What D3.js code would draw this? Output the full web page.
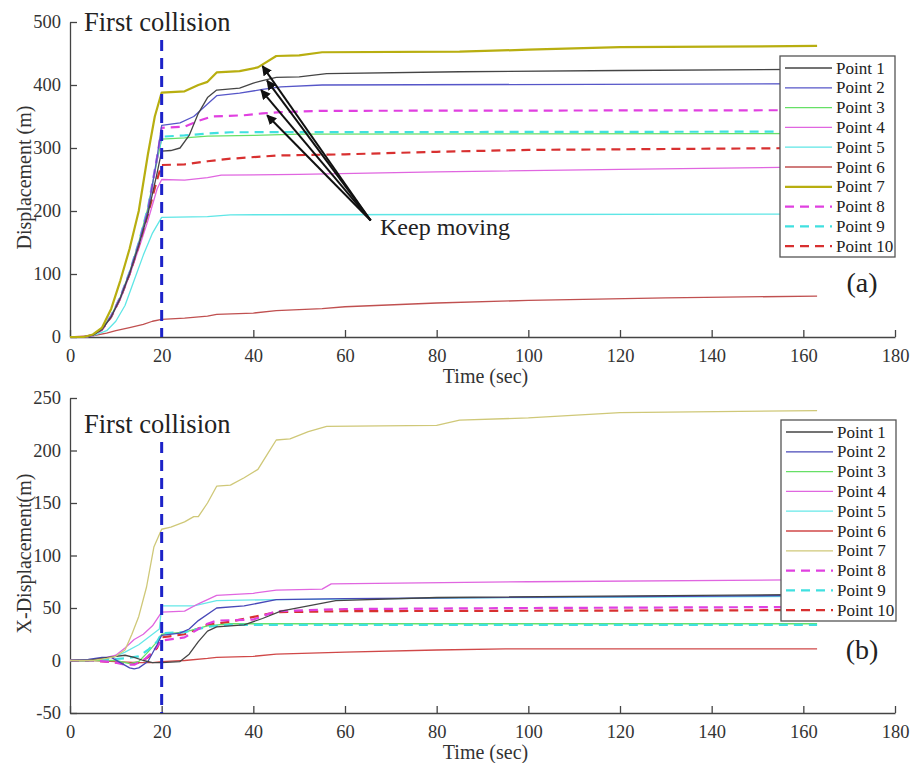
<!DOCTYPE html>
<html>
<head>
<meta charset="utf-8">
<script src="https://cdn.jsdelivr.net/npm/d3@7"></script>
<style>
  body { margin: 0; background: #fff; }
  svg { display: block; }
  text { font-family: "Liberation Serif", "Times New Roman", serif; }
</style>
</head>
<body>
<svg width="911" height="763"></svg>
<script>
// ---- data (time in sec, value in m) ----
var names = ["Point 1", "Point 2", "Point 3", "Point 4", "Point 5", "Point 6", "Point 7", "Point 8", "Point 9", "Point 10"];
var colors = ["#454545", "#5656c8", "#66e066", "#e066e0", "#5ee6e6", "#c05050", "#b8ae10", "#e040e0", "#40e0e0", "#d83030"];
var colorsB = ["#454545", "#4848b8", "#66e066", "#e066e0", "#66e8e8", "#d04848", "#cfc878", "#e040e0", "#40e0e0", "#d83030"];
var dashed = [false, false, false, false, false, false, false, true, true, true];

var xTicks = [0, 20, 40, 60, 80, 100, 120, 140, 160, 180];
var yTicksA = [0, 100, 200, 300, 400, 500];
var yTicksB = [-50, 0, 50, 100, 150, 200, 250];
var collisionTime = 20;

// (a) Displacement
var disp1 = [[0,0],[3,0],[5,3],[7,12],[9,32],[11,62],[13,100],[15,145],[17,195],[19,260],[20,295],[22,296],[24,300],[26,320],[28,355],[30,380],[32,392],[37,395],[40,403],[42,407],[45,412],[50,413],[56,418],[85,421],[120,423],[163,425]];
var disp2 = [[0,0],[3,0],[5,3],[7,12],[9,33],[11,63],[13,102],[15,148],[17,200],[19,285],[20,336],[24,340],[27,350],[30,370],[32,383],[37,387],[42,393],[46,397],[55,400],[163,402]];
var disp3 = [[0,0],[3,0],[5,3],[7,13],[9,34],[11,64],[13,103],[15,150],[17,205],[19,280],[20,314],[25,316],[30,319],[40,320],[50,322],[163,323]];
var disp4 = [[0,0],[3,0],[5,3],[7,12],[9,32],[11,60],[13,98],[15,140],[17,185],[19,235],[20,250],[25,249],[30,253],[33,257],[50,258],[80,262],[120,266],[163,270]];
var disp5 = [[0,0],[3,0],[5,2],[8,10],[10,25],[12,50],[14,90],[16,130],[18,165],[20,190],[30,191],[35,194],[163,195]];
var disp6 = [[0,0],[5,2],[8,6],[10,10],[13,15],[16,20],[18,25],[20,28],[25,30],[30,33],[32,36],[40,38],[45,42],[55,45],[60,48],[80,54],[100,58],[130,62],[163,65]];
var disp7 = [[0,0],[3,0],[5,4],[7,15],[9,45],[11,90],[13,140],[15,200],[17,290],[18.5,350],[20,388],[25,390],[28,400],[30,405],[32,420],[37,422],[41,428],[45,446],[50,447],[55,452],[85,453],[100,456],[120,460],[163,462]];
var disp8 = [[0,0],[3,0],[5,3],[7,12],[9,33],[11,63],[13,101],[15,147],[17,200],[19,285],[20,332],[25,334],[28,343],[31,350],[38,352],[42,355],[46,357],[55,359],[163,360]];
var disp9 = [[0,0],[3,0],[5,3],[7,13],[9,34],[11,64],[13,103],[15,150],[17,205],[19,285],[20,318],[25,320],[30,323],[35,325],[163,326]];
var disp10 = [[0,0],[3,0],[5,3],[7,12],[9,32],[11,62],[13,100],[15,145],[17,195],[19,250],[20,273],[25,274],[30,279],[35,283],[45,288],[60,290],[80,294],[100,297],[163,300]];

// (b) X-Displacement
var xdisp1 = [[0,0],[4,0],[7,2],[10,4],[12,5],[14,3],[16,0],[18,-2],[20,-2],[24,-1],[26,6],[28,18],[30,28],[32,32],[38,34],[42,40],[46,47],[52,52],[58,57],[80,60],[163,63]];
var xdisp2 = [[0,0],[4,1],[7,3],[9,3],[11,-2],[13,-7],[14,-8],[15,-7],[17,-1],[19,15],[20,24],[24,26],[26,30],[28,38],[32,50],[38,52],[45,58],[60,59],[163,62]];
var xdisp3 = [[0,0],[5,0],[10,0],[13,-3],[15,-1],[17,8],[19,18],[20,25],[25,27],[30,33],[35,35],[163,35]];
var xdisp4 = [[0,0],[5,1],[8,3],[10,5],[12,12],[14,20],[16,25],[18,33],[20,46],[25,47],[28,54],[32,62],[40,64],[45,67],[55,68],[57,73],[100,75],[163,77]];
var xdisp5 = [[0,0],[5,0],[8,2],[10,4],[12,8],[15,15],[18,25],[19.5,30],[20,52],[27,52],[32,57],[45,58],[100,60],[163,61]];
var xdisp6 = [[0,0],[5,0],[10,-1],[15,-2],[18,-2],[20,-1],[25,0],[30,2],[32,3],[40,4],[45,6],[60,8],[80,10],[95,11],[163,11]];
var xdisp7 = [[0,0],[5,0],[8,2],[10,4],[12,10],[13.5,25],[15,42],[16.7,70],[18.3,108],[20,125],[22,127],[25,132],[27,137],[28,137],[30,150],[32,166],[35,167],[38,174],[41,182],[43,196],[45,210],[48,211],[52,218],[56,223],[80,224],[85,229],[100,231],[120,236],[163,238]];
var xdisp8 = [[0,0],[5,0],[8,-1],[10,-2],[12,-4],[14,-4],[16,0],[18,8],[20,19],[25,22],[28,30],[30,35],[32,38],[40,39],[45,47],[60,49],[100,50],[163,51]];
var xdisp9 = [[0,0],[5,0],[8,1],[12,2],[15,4],[17,10],[19,18],[20,26],[25,27],[30,32],[35,34],[163,34]];
var xdisp10 = [[0,0],[5,0],[8,-1],[12,-3],[15,-2],[17,3],[19,12],[20,22],[25,25],[30,34],[35,37],[45,46],[60,47],[163,48]];

// "Keep moving" arrows: tail and tips in data coords
var arrowTail = [65.6, 185];
var arrowTips = [[42, 430], [43, 407], [41.7, 392], [43, 352]];

var seriesA = [disp1, disp2, disp3, disp4, disp5, disp6, disp7, disp8, disp9, disp10];
var seriesB = [xdisp1, xdisp2, xdisp3, xdisp4, xdisp5, xdisp6, xdisp7, xdisp8, xdisp9, xdisp10];

// ---- layout ----
var svg = d3.select("svg");
var left = 70, right = 895;
var serif = "Liberation Serif";

svg.append("defs").append("marker")
    .attr("id", "head")
    .attr("viewBox", "0 0 10 10")
    .attr("refX", 9).attr("refY", 5)
    .attr("markerWidth", 5).attr("markerHeight", 5)
    .attr("orient", "auto-start-reverse")
  .append("path")
    .attr("d", "M0,0 L10,5 L0,10 z")
    .attr("fill", "#111");

function drawPanel(opt) {
    var x = d3.scaleLinear().domain([0, 180]).range([left, right]);
    var y = d3.scaleLinear().domain(opt.yDomain).range([opt.bottom, opt.top]);
    var g = svg.append("g");

    // axes, ticks pointing inward; plain hyphen for negatives
    var fmt = function(d) { return String(d); };
    var xAxis = g.append("g")
        .attr("transform", "translate(0," + opt.bottom + ")")
        .call(d3.axisBottom(x).tickValues(xTicks).tickFormat(fmt).tickSizeInner(-7).tickSizeOuter(0).tickPadding(12));
    var yAxis = g.append("g")
        .attr("transform", "translate(" + left + ",0)")
        .call(d3.axisLeft(y).tickValues(opt.yTicks).tickFormat(fmt).tickSizeInner(-7).tickSizeOuter(0).tickPadding(9));
    [xAxis, yAxis].forEach(function(a) {
        a.attr("font-family", serif);
        a.select(".domain").attr("stroke", "#444").attr("stroke-width", 1.3);
        a.selectAll(".tick line").attr("stroke", "#444").attr("stroke-width", 1.3);
        a.selectAll(".tick text")
            .attr("font-family", serif)
            .attr("font-size", 18.5)
            .attr("fill", "#333");
    });

    g.append("text")
        .attr("x", (left + right) / 2 + 3)
        .attr("y", opt.bottom + 46)
        .attr("text-anchor", "middle")
        .attr("font-family", serif)
        .attr("font-size", 20)
        .attr("fill", "#333")
        .text("Time (sec)");
    g.append("text")
        .attr("transform", "translate(31," + ((opt.top + opt.bottom) / 2 - 2) + ") rotate(-90)")
        .attr("text-anchor", "middle")
        .attr("font-family", serif)
        .attr("font-size", 20)
        .attr("fill", "#333")
        .text(opt.yLabel);

    // lines
    var line = d3.line()
        .x(function(d) { return x(d[0]); })
        .y(function(d) { return y(d[1]); });
    var order = [5, 4, 3, 9, 2, 8, 7, 1, 0, 6];
    order.forEach(function(i) {
        g.append("path")
            .datum(opt.series[i])
            .attr("d", line)
            .attr("fill", "none")
            .attr("stroke", opt.colors[i])
            .attr("stroke-width", dashed[i] ? 2.2 : (i == 6 ? opt.w7 : 1.3))
            .attr("stroke-dasharray", dashed[i] ? "9,6" : null)
            .attr("stroke-linejoin", "round");
    });

    // first collision
    g.append("line")
        .attr("x1", x(collisionTime)).attr("x2", x(collisionTime))
        .attr("y1", opt.collTop).attr("y2", opt.bottom)
        .attr("stroke", "#1c22c8")
        .attr("stroke-width", 3)
        .attr("stroke-dasharray", "11,7");
    g.append("text")
        .attr("x", 84)
        .attr("y", opt.collLabelY)
        .attr("font-family", serif)
        .attr("font-size", 26.5)
        .attr("fill", "#222")
        .text("First collision");

    // legend
    var lg = g.append("g").attr("transform", "translate(" + opt.legX + "," + opt.legY + ")");
    lg.append("rect")
        .attr("width", 115).attr("height", 201)
        .attr("fill", "#fff")
        .attr("stroke", "#555").attr("stroke-width", 1.3);
    names.forEach(function(n, i) {
        var yy = 12 + i * 19.8;
        lg.append("line")
            .attr("x1", 5).attr("x2", 52)
            .attr("y1", yy).attr("y2", yy)
            .attr("stroke", opt.colors[i])
            .attr("stroke-width", dashed[i] ? 2.2 : (i == 6 ? opt.w7 : 1.3))
            .attr("stroke-dasharray", dashed[i] ? "9,6" : null);
        lg.append("text")
            .attr("x", 56).attr("y", yy + 5.5)
            .attr("font-family", serif)
            .attr("font-size", 17)
            .attr("fill", "#222")
            .text(n);
    });

    g.append("text")
        .attr("x", 862).attr("y", opt.tagY)
        .attr("text-anchor", "middle")
        .attr("font-family", serif)
        .attr("font-size", 28)
        .attr("fill", "#222")
        .text(opt.tag);

    return { x: x, y: y, g: g };
}

var pa = drawPanel({
    top: 22, bottom: 337, yDomain: [0, 500], yTicks: yTicksA,
    yLabel: "Displacement (m)", series: seriesA, colors: colors, w7: 2.2,
    collTop: 40, collLabelY: 31, legX: 780, legY: 56, tag: "(a)", tagY: 292
});
var pb = drawPanel({
    top: 398, bottom: 713, yDomain: [-50, 250], yTicks: yTicksB,
    yLabel: "X-Displacement(m)", series: seriesB, colors: colorsB, w7: 1.3,
    collTop: 442, collLabelY: 433, legX: 781, legY: 420, tag: "(b)", tagY: 659
});

// Keep moving annotation
arrowTips.forEach(function(t) {
    pa.g.append("line")
        .attr("x1", pa.x(arrowTail[0])).attr("y1", pa.y(arrowTail[1]))
        .attr("x2", pa.x(t[0])).attr("y2", pa.y(t[1]))
        .attr("stroke", "#111")
        .attr("stroke-width", 2)
        .attr("marker-end", "url(#head)");
});
pa.g.append("text")
    .attr("x", 380).attr("y", 235)
    .attr("font-family", serif)
    .attr("font-size", 24)
    .attr("fill", "#222")
    .text("Keep moving");
</script>
</body>
</html>
